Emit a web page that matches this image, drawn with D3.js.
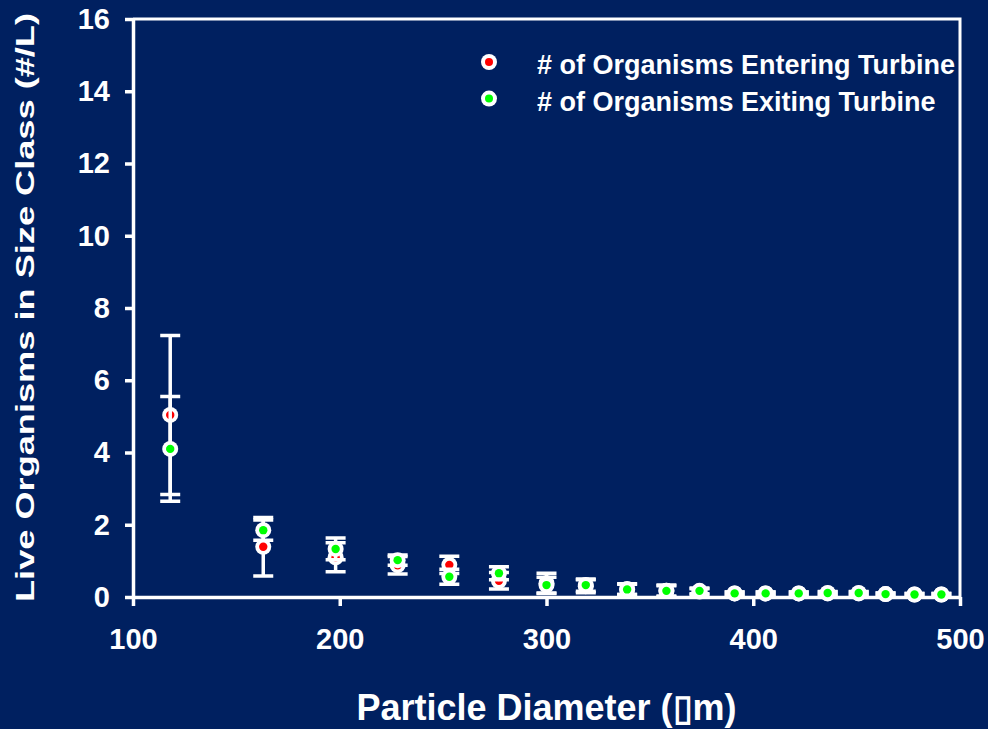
<!DOCTYPE html>
<html>
<head>
<meta charset="utf-8">
<script src="https://cdn.jsdelivr.net/npm/d3@7"></script>
<style>
  body { margin:0; background:#002060; }
  svg { display:block; font-family:"Liberation Sans", Arial, sans-serif; font-weight:bold; }
</style>
</head>
<body>
<div id="chart"></div>
<script>
// particle size classes (um) and live counts (#/L)
var sizes       = [118, 163, 198, 228, 253, 277, 300, 319, 339, 358, 374, 391, 406, 422, 436, 451, 464, 478, 491];
var entering    = [5.04, 1.39, 1.10, 0.88, 0.89, 0.45, 0.38, 0.30, 0.22, 0.17, 0.15, 0.10, 0.10, 0.10, 0.10, 0.10, 0.08, 0.07, 0.07];
var enteringErr = [2.20, 0.81, 0.40, 0.24, 0.24, 0.23, 0.28, 0.18, 0.15, 0.14, 0.08, 0.04, 0.04, 0.04, 0.04, 0.04, 0.03, 0.03, 0.03];
var exiting     = [4.10, 1.85, 1.33, 1.02, 0.56, 0.66, 0.33, 0.33, 0.21, 0.17, 0.17, 0.10, 0.10, 0.10, 0.11, 0.11, 0.08, 0.07, 0.07];
var exitingErr  = [1.45, 0.28, 0.30, 0.14, 0.21, 0.18, 0.22, 0.17, 0.14, 0.16, 0.08, 0.04, 0.04, 0.04, 0.04, 0.04, 0.03, 0.03, 0.03];

var xTicks = [100, 200, 300, 400, 500],
    yTicks = [0, 2, 4, 6, 8, 10, 12, 14, 16];
var seriesNames  = ["# of Organisms Entering Turbine", "# of Organisms Exiting Turbine"],
    seriesColors = ["#ff0000", "#00ff00"];
var xTitle = "Particle Diameter (\u25AFm)",
    yTitle = "Live Organisms in Size Class (#/L)";

var W = 988, H = 729,
    m = { t:19, r:28, b:132, l:133 },
    w = W - m.l - m.r,
    h = H - m.t - m.b;

var svg = d3.select("#chart")
  .append("svg")
    .attr("width", W)
    .attr("height", H);

svg.append("rect")
    .attr("width", W)
    .attr("height", H)
    .attr("fill", "#002060");

var plot = svg.append("g")
    .attr("transform", "translate(" + m.l + "," + m.t + ")");

var x = d3.scaleLinear().domain([100, 500]).range([0, w]),
    y = d3.scaleLinear().domain([0, 16]).range([h, 0]);

// top and right edges of the plot box
plot.append("path")
    .attr("d", "M0,0H" + w + "V" + h)
    .attr("fill", "none")
    .attr("stroke", "#fff")
    .attr("stroke-width", 3);

var axisX = d3.axisBottom(x)
    .tickValues(xTicks)
    .tickFormat(d3.format("d"))
    .tickSizeInner(9)
    .tickSizeOuter(0)
    .tickPadding(22);
var axisY = d3.axisLeft(y)
    .tickValues(yTicks)
    .tickFormat(d3.format("d"))
    .tickSizeInner(8)
    .tickSizeOuter(0)
    .tickPadding(15);

plot.append("g")
    .attr("transform", "translate(0," + h + ")")
    .call(axisX);
plot.append("g")
    .call(axisY);

plot.selectAll(".domain, .tick line")
    .attr("stroke", "#fff")
    .attr("stroke-width", 3.5);
plot.selectAll(".tick text")
    .attr("fill", "#fff")
    .style("font-size", "29px")
    .style("font-family", "Liberation Sans, Arial, sans-serif")
    .style("font-weight", "bold");

// one layer per series: error bars first, then the markers
var series = [
  { name: seriesNames[0], color: seriesColors[0], vals: entering, errs: enteringErr },
  { name: seriesNames[1], color: seriesColors[1], vals: exiting,  errs: exitingErr }
];

series.forEach(function(s) {
  var pts = sizes.map(function(d, i) {
    return { x: d, v: s.vals[i], e: s.errs[i] };
  });
  var g = plot.append("g");

  g.selectAll(".err")
    .data(pts)
    .enter().append("path")
      .attr("class", "err")
      .attr("fill", "none")
      .attr("stroke", "#fff")
      .attr("stroke-width", 3.5)
      .attr("d", function(d) {
        var cx = x(d.x),
            y0 = y(Math.max(0, d.v - d.e)),
            y1 = y(d.v + d.e),
            cw = 10;
        return "M" + cx + "," + y0 + "V" + y1 +
               "M" + (cx - cw) + "," + y1 + "H" + (cx + cw) +
               "M" + (cx - cw) + "," + y0 + "H" + (cx + cw);
      });

  g.selectAll(".halo")
    .data(pts)
    .enter().append("circle")
      .attr("class", "halo")
      .attr("cx", function(d) { return x(d.x); })
      .attr("cy", function(d) { return y(d.v); })
      .attr("r", 8)
      .attr("fill", "#fff");

  g.selectAll(".dot")
    .data(pts)
    .enter().append("circle")
      .attr("class", "dot")
      .attr("cx", function(d) { return x(d.x); })
      .attr("cy", function(d) { return y(d.v); })
      .attr("r", 4.2)
      .attr("fill", s.color);
});

// legend
var legend = svg.append("g")
    .attr("transform", "translate(489,62)");
var row = legend.selectAll(".legend")
    .data(series)
  .enter().append("g")
    .attr("class", "legend")
    .attr("transform", function(d, i) { return "translate(0," + (i * 36.6) + ")"; });
row.append("circle")
    .attr("r", 8)
    .attr("fill", "#fff");
row.append("circle")
    .attr("r", 4)
    .attr("fill", function(d) { return d.color; });
row.append("text")
    .attr("x", 48)
    .attr("y", 2.7)
    .attr("dy", "0.35em")
    .attr("fill", "#fff")
    .style("font-size", "27px")
    .text(function(d) { return d.name; });

// axis titles
svg.append("text")
    .attr("x", m.l + w / 2)
    .attr("y", 720)
    .attr("text-anchor", "middle")
    .attr("fill", "#fff")
    .style("font-size", "36px")
    .text(xTitle);

svg.append("text")
    .attr("transform", "translate(34,307.5) rotate(-90)")
    .attr("text-anchor", "middle")
    .attr("fill", "#fff")
    .attr("textLength", 589)
    .attr("lengthAdjust", "spacingAndGlyphs")
    .style("font-size", "26px")
    .text(yTitle);
</script>
</body>
</html>
